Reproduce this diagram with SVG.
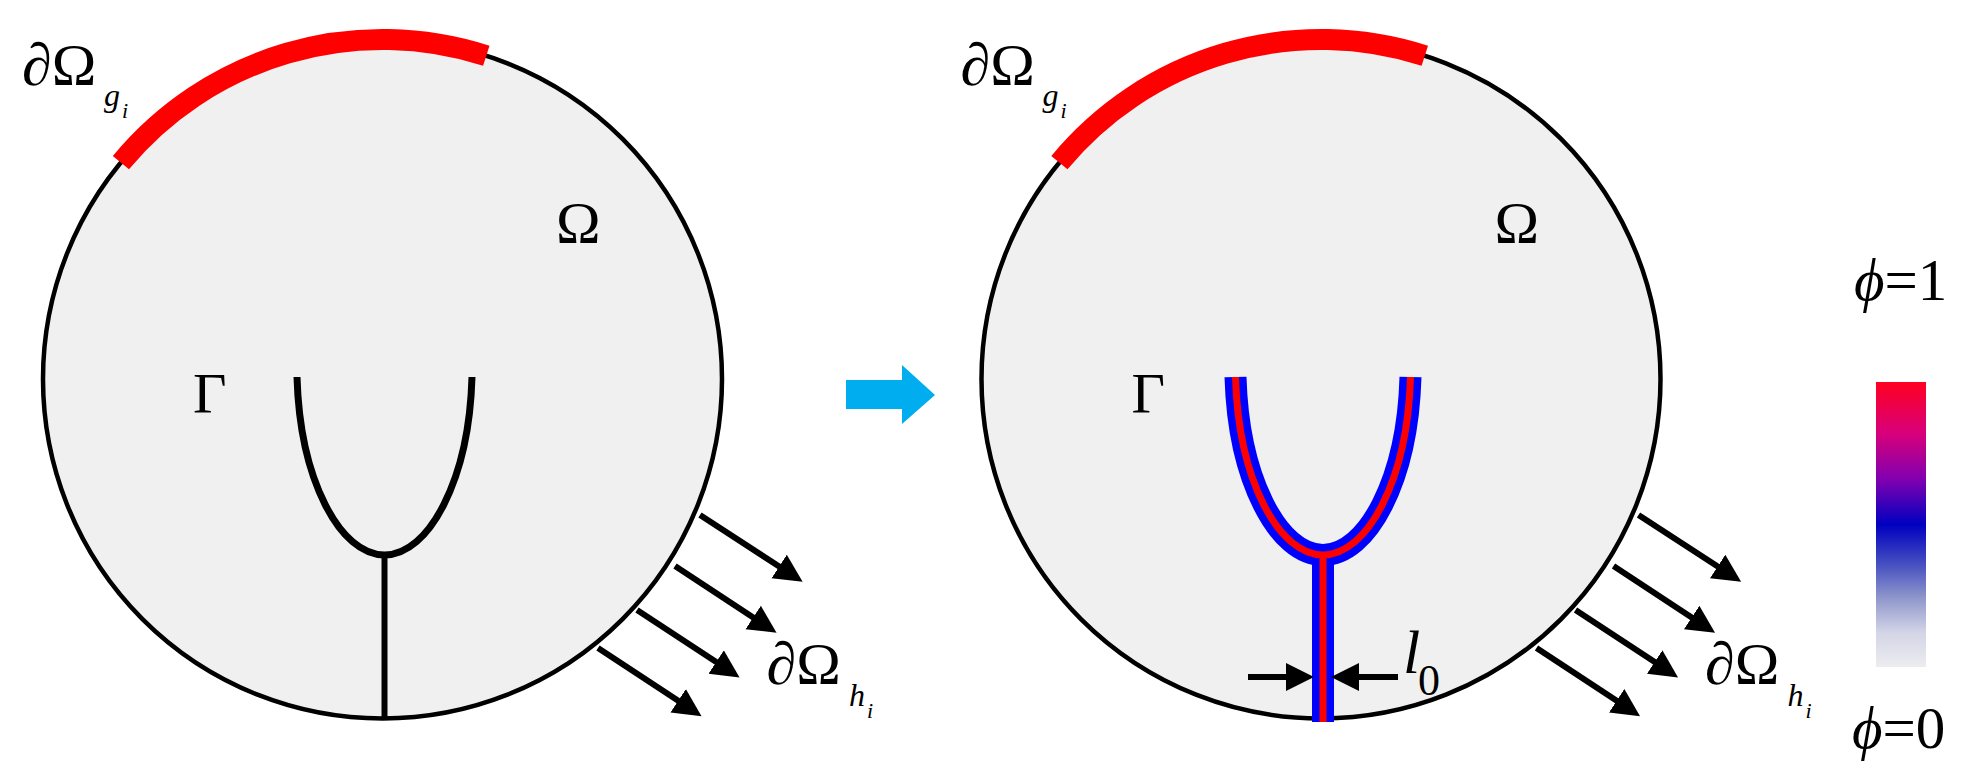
<svg xmlns="http://www.w3.org/2000/svg" width="1969" height="781" viewBox="0 0 1969 781">
<style>
.dom{fill:#f0f0f0;stroke:#000;stroke-width:4.5}
.bnd{fill:none;stroke:#ff0000;stroke-width:21}
.crack{fill:none;stroke:#000;stroke-width:7}
.stem{fill:none;stroke:#000;stroke-width:6}
.band{fill:none;stroke:#0000ff;stroke-width:22}
.core{fill:none;stroke:#ff0000;stroke-width:7}
.ld{fill:none;stroke:#000;stroke-width:6;marker-end:url(#ah)}
.t{font-family:"Liberation Serif","DejaVu Serif",serif;fill:#000}
.it{font-style:italic}
</style>
<defs>
<marker id="ah" markerUnits="userSpaceOnUse" markerWidth="30" markerHeight="30" refX="1" refY="14" orient="auto" viewBox="0 0 30 30">
<path d="M0,0 L28,14 L0,28 Z" fill="#000"/>
</marker>
<linearGradient id="cb" x1="0" y1="0" x2="0" y2="1">
<stop offset="0" stop-color="#ff0020"/>
<stop offset="0.18" stop-color="#d8007a"/>
<stop offset="0.34" stop-color="#8200b0"/>
<stop offset="0.5" stop-color="#0000c0"/>
<stop offset="0.64" stop-color="#4650c0"/>
<stop offset="0.76" stop-color="#9098cc"/>
<stop offset="0.88" stop-color="#d4d5e6"/>
<stop offset="1" stop-color="#ececf0"/>
</linearGradient>
</defs>

<g id="domain-left">
<circle class="dom" cx="382.5" cy="379" r="339.5"/>
<path class="bnd" d="M120.9,162.6 A339.5,339.5 0 0 1 486.3,55.8"/>
<path class="crack" d="M297,377 C300,480 340,555 384.5,555 C429,555 469,480 472,377"/>
<path class="stem" d="M384.5,555 L384.5,718"/>
<text class="t" x="22" y="85" font-size="60">∂Ω</text>
<text class="t it" x="104" y="106" font-size="32">g</text>
<text class="t it" x="122" y="118" font-size="22">i</text>
<text class="t" x="556" y="243" font-size="60">Ω</text>
<text class="t" x="193" y="413" font-size="58">Γ</text>
<text class="t" x="766.5" y="684" font-size="60">∂Ω</text>
<text class="t it" x="849" y="706" font-size="32">h</text>
<text class="t it" x="867" y="718" font-size="22">i</text>
</g>

<g id="domain-right" transform="translate(938.5,0)">
<circle class="dom" cx="382.5" cy="379" r="339.5"/>
<path class="bnd" d="M120.9,162.6 A339.5,339.5 0 0 1 486.3,55.8"/>
<path class="band" d="M297,377 C300,480 340,555 384.5,555 C429,555 469,480 472,377"/>
<path class="band" d="M384.5,555 L384.5,722"/>
<path class="core" d="M297,377 C300,480 340,555 384.5,555 C429,555 469,480 472,377"/>
<path class="core" d="M384.5,555 L384.5,722"/>
<text class="t" x="22" y="85" font-size="60">∂Ω</text>
<text class="t it" x="104" y="106" font-size="32">g</text>
<text class="t it" x="122" y="118" font-size="22">i</text>
<text class="t" x="556" y="243" font-size="60">Ω</text>
<text class="t" x="193" y="413" font-size="58">Γ</text>
<text class="t" x="766.5" y="684" font-size="60">∂Ω</text>
<text class="t it" x="849" y="706" font-size="32">h</text>
<text class="t it" x="867" y="718" font-size="22">i</text>
</g>

<g id="transition-arrow">
<polygon points="846,380 902,380 902,365 935,395 902,424 902,409 846,409" fill="#00aeef"/>
</g>

<g id="width-label">
<text class="t it" x="1403" y="673" font-size="62">l</text>
<text class="t" x="1418" y="695" font-size="44">0</text>
</g>

<g id="colorbar">
<rect x="1876" y="382" width="50" height="285" fill="url(#cb)"/>
<text class="t" x="1854" y="300" font-size="59"><tspan class="it">ϕ</tspan>=1</text>
<text class="t" x="1852" y="748" font-size="59"><tspan class="it">ϕ</tspan>=0</text>
</g>

<g id="connectors">
<line class="ld" x1="700" y1="515" x2="780" y2="567"/>
<line class="ld" x1="675" y1="566" x2="754" y2="618"/>
<line class="ld" x1="637" y1="610" x2="717" y2="662.6"/>
<line class="ld" x1="598" y1="648" x2="679" y2="701.3"/>
<g transform="translate(938.5,0)">
<line class="ld" x1="700" y1="515" x2="780" y2="567"/>
<line class="ld" x1="675" y1="566" x2="754" y2="618"/>
<line class="ld" x1="637" y1="610" x2="717" y2="662.6"/>
<line class="ld" x1="598" y1="648" x2="679" y2="701.3"/>
</g>
<line class="ld" x1="1248" y1="677" x2="1287" y2="677"/>
<line class="ld" x1="1398" y1="677" x2="1358" y2="677"/>
</g>
</svg>
